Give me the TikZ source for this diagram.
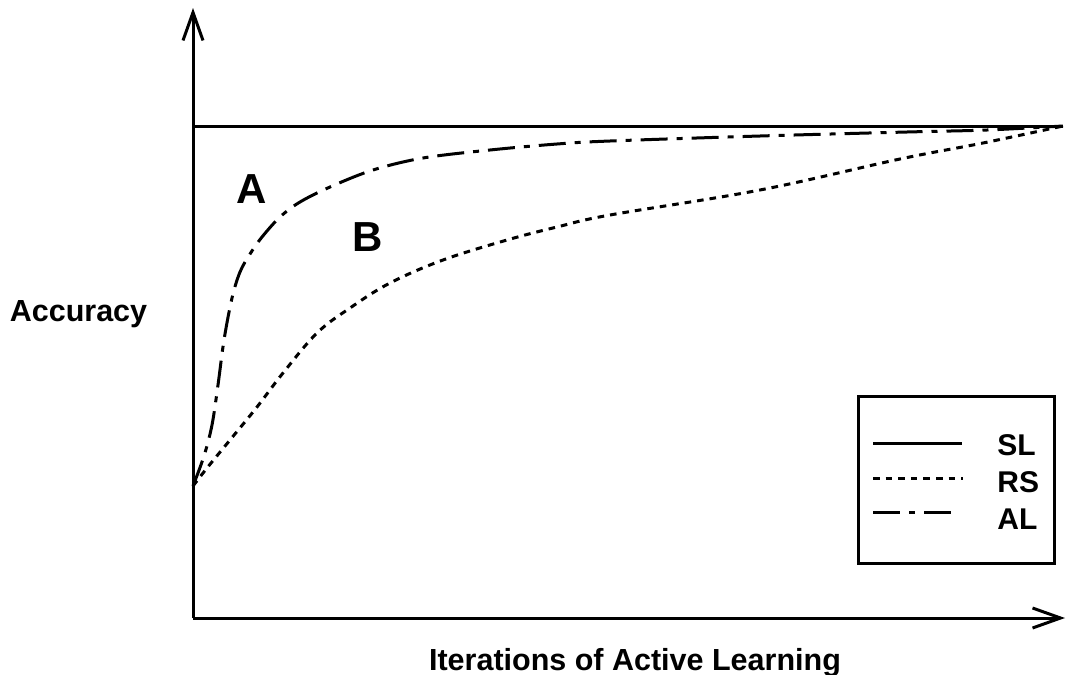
\documentclass[tikz,border=0pt]{standalone}
\usepackage{fontspec}
\setmainfont{Liberation Sans}
\usetikzlibrary{arrows.meta}

\tikzset{
  axisline/.style={line width=1.5pt, -{Straight Barb[length=14pt,width=10pt]}},
  curveline/.style={line width=1.5pt, line join=round},
  slstyle/.style={curveline},
  rsstyle/.style={curveline, dash pattern=on 3.3pt off 3pt},
  alstyle/.style={curveline, dash pattern=on 13.5pt off 4.5pt on 3pt off 4.5pt},
  axislabel/.style={font=\bfseries\fontsize{15.25pt}{18pt}\selectfont, inner sep=0pt},
  letterlabel/.style={font=\bfseries\fontsize{21pt}{24pt}\selectfont, inner sep=0pt},
  legendtext/.style={font=\bfseries\fontsize{15pt}{18pt}\selectfont, inner sep=0pt, anchor=base west},
  legendbox/.style={draw, line width=1.5pt, inner sep=0pt}
}

\begin{document}
\begin{tikzpicture}[x=0.5pt, y=-0.5pt]
  \useasboundingbox (0,0) rectangle (1067,675);

  % key points of the chart
  \coordinate (origin) at (193,618);
  \coordinate (ytip)   at (193,8);
  \coordinate (xtip)   at (1065,618);
  \coordinate (start)  at (193,486);
  \coordinate (slleft) at (193,126);
  \coordinate (conv)   at (1063,126);

  % axes
  \draw[axisline] (origin) -- (ytip);
  \draw[axisline] (origin) -- (xtip);

  % SL: supervised learning upper bound
  \draw[slstyle] (slleft) -- (conv);

  % AL: active learning curve
  \draw[alstyle] plot[smooth, tension=0.55] coordinates {
    (193,486) (204,456) (212,425) (218,385) (224,340) (232,298)
    (240,272) (250,254) (262,237) (280,217) (300,202) (330,187)
    (373,170) (423,158) (490,150) (557,144) (610,141) (760,136)
    (907,132) (987,130) (1063,126)};

  % RS: random sampling curve
  \draw[rsstyle] plot[smooth, tension=0.6] coordinates {
    (193,486) (207,468) (230,440) (257,407) (283,373) (317,333)
    (350,308) (390,283) (443,260) (507,240) (557,227) (610,215)
    (760,190) (900,159) (983,143) (1063,126)};

  % region labels
  \node[letterlabel, anchor=base] (labA) at (252,203) {A};
  \node[letterlabel, anchor=base] (labB) at (367.5,251) {B};

  % axis titles
  \node[axislabel, anchor=base] (ylab) at (78.5,321) {Accuracy};
  \node[axislabel, anchor=base] (xlab) at (635,670) {Iterations of Active Learning};

  % legend
  \node[legendbox, minimum width=98pt, minimum height=83.5pt, anchor=north west] (legend) at (857,395) {};
  \coordinate (slA) at (873,443);  \coordinate (slB) at (962,443);
  \coordinate (rsA) at (873,478);  \coordinate (rsB) at (963,478);
  \coordinate (alA) at (873,512);  \coordinate (alB) at (953,512);
  \draw[slstyle] (slA) -- (slB);
  \draw[rsstyle] (rsA) -- (rsB);
  \draw[alstyle] (alA) -- (alB);
  \node[legendtext] (slt) at (997,455) {SL};
  \node[legendtext] (rst) at (997,492) {RS};
  \node[legendtext] (alt) at (997,529) {AL};
\end{tikzpicture}
\end{document}
